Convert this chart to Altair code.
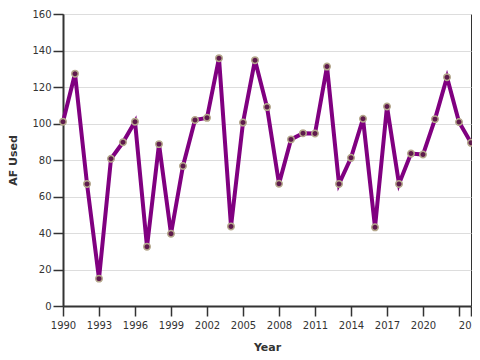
import altair as alt
import pandas as pd

years = list(range(1990, 2025))
af_used = [101.0, 127.3, 66.9, 15.0, 80.7, 89.7, 101.0, 32.5, 88.7, 39.6,
           76.7, 101.9, 103.1, 135.8, 43.6, 100.5, 134.7, 109.0, 67.0, 91.3,
           94.7, 94.5, 131.2, 66.9, 81.2, 102.6, 43.1, 109.3, 66.9, 83.5,
           83.0, 102.4, 125.4, 100.8, 89.4]
tick_years = [1990, 1993, 1996, 1999, 2002, 2005, 2008, 2011, 2014, 2017, 2020, 2023, 2024]
y_ticks = [0, 20, 40, 60, 80, 100, 120, 140, 160]

df = pd.DataFrame({"Year": years, "AF Used": af_used})

x = alt.X("Year:Q",
          scale=alt.Scale(domain=[1990, 2024], nice=False, zero=False),
          axis=alt.Axis(values=tick_years, format="d", grid=False,
                        labelExpr="datum.value == 2023 ? '' : format(datum.value, 'd')",
                        labelOverlap=False, labelFlush=False,
                        labelPadding=4, titlePadding=11))
y = alt.Y("AF Used:Q",
          scale=alt.Scale(domain=[0, 160], nice=False),
          axis=alt.Axis(values=y_ticks, gridColor="#dddddd",
                        labelPadding=2, titlePadding=13))

line = alt.Chart(df).mark_line(color="#800080", strokeWidth=4).encode(x=x, y=y)
points = alt.Chart(df).mark_point(filled=True, fill="#5e1a4c", stroke="#b5a88c",
                                  strokeWidth=1.5, size=42, opacity=1).encode(x=x, y=y)

chart = (line + points).properties(
    width=408, height=292,
    autosize=alt.AutoSizeParams(type="none"),
    padding={"left": 55, "top": 6, "right": 1, "bottom": 46},
).configure(font="DejaVu Sans").configure_axis(
    domainColor="#333333", domainWidth=2, tickColor="#333333", tickWidth=1.5,
    tickSize=10, labelColor="#333333", labelFontSize=10, titleFontSize=11,
    titleColor="#333333", titleFontWeight="bold", labelFont="DejaVu Sans",
    titleFont="DejaVu Sans",
).configure_view(stroke="#333333", strokeWidth=1)

chart.save("out.html", embed_options={"renderer": "svg", "actions": False})
